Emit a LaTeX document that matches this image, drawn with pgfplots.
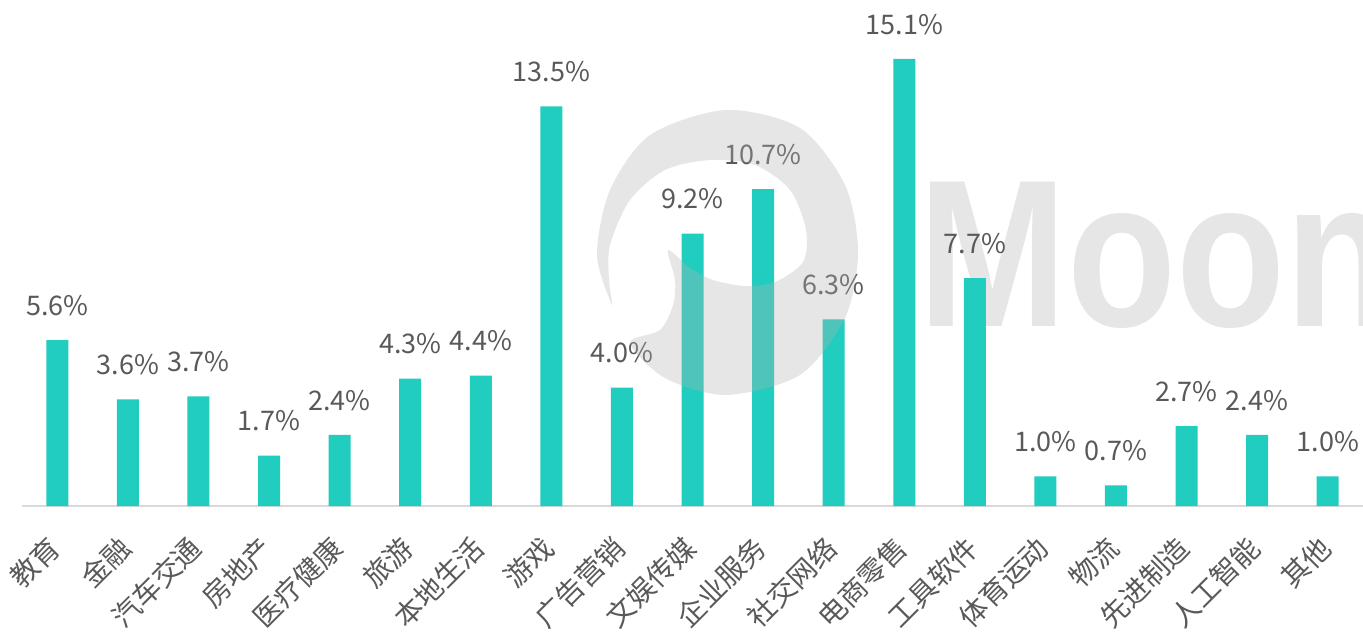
\documentclass[border=0pt]{standalone}
\usepackage{pgfplots}
\pgfplotsset{compat=1.18}
\usepackage{fontspec}
\setmainfont{Noto Sans CJK SC}
\newfontfamily\wmfont{Liberation Sans}
\definecolor{barc}{RGB}{32,205,190}
\definecolor{txt}{RGB}{89,89,89}
\definecolor{axl}{RGB}{217,217,217}
\definecolor{wm}{RGB}{178,178,178}
\definecolor{wmt}{RGB}{230,230,230}
\begin{document}
\begin{tikzpicture}
\useasboundingbox (-11pt,-62.5pt) rectangle (670.5pt,253pt);
% watermark text (behind bars)
\begin{scope}[x=0.5pt,y=-0.5pt,shift={(-11pt,253pt)}]
\node[anchor=base west, inner sep=0pt, text=wmt, font=\wmfont\bfseries\fontsize{105}{105}\selectfont, xscale=0.85] at (918,327) {Moon};
\end{scope}
\begin{axis}[
  at={(0,0)}, anchor=south west,
  width=670.5pt, height=253pt, scale only axis,
  xmin=-0.5, xmax=18.5, ymin=0, ymax=17.09,
  axis x line=bottom, axis y line=none,
  axis line style={draw=axl, line width=1pt, -},
  xtick={0,...,18},
  xticklabels={教育,金融,汽车交通,房地产,医疗健康,旅游,本地生活,游戏,广告营销,文娱传媒,企业服务,社交网络,电商零售,工具软件,体育运动,物流,先进制造,人工智能,其他},
  xticklabel style={rotate=45, anchor=east, inner sep=0pt, xshift=-13.6pt, yshift=-12.2pt, font=\fontsize{14}{14}\selectfont, text=txt},
  major tick length=0pt,
  ytick=\empty,
  point meta=explicit symbolic,
  nodes near coords,
  nodes near coords style={anchor=south, inner sep=0pt, yshift=12pt, text=txt, font=\fontsize{13.5}{13.5}\selectfont},
  clip=false,
]
\addplot[ybar, bar width=11pt, fill=barc, draw=none] coordinates {
(0,5.6) [5.6\%]
(1,3.6) [3.6\%]
(2,3.7) [3.7\%]
(3,1.7) [1.7\%]
(4,2.4) [2.4\%]
(5,4.3) [4.3\%]
(6,4.4) [4.4\%]
(7,13.5) [13.5\%]
(8,4.0) [4.0\%]
(9,9.2) [9.2\%]
(10,10.7) [10.7\%]
(11,6.3) [6.3\%]
(12,15.1) [15.1\%]
(13,7.7) [7.7\%]
(14,1.0) [1.0\%]
(15,0.7) [0.7\%]
(16,2.7) [2.7\%]
(17,2.4) [2.4\%]
(18,1.0) [1.0\%]
};
\end{axis}
% watermark crescent (over bars, translucent)
\begin{scope}[x=0.5pt,y=-0.5pt,shift={(-11pt,253pt)}]
\fill[wm, opacity=0.32] plot[smooth cycle, tension=0.5] coordinates {
(612,305) (597,255) (610,190) (650,135) (726,110) (800,128) (845,185) (858,252) (845,318) (800,375) (726,395) (665,378) (630,343)
(660,330) (673,305) (675,280) (668,250)
(690,268) (713,280) (745,286) (775,282) (803,262)
(806,230) (790,190) (755,165) (710,160) (665,170) (630,200) (610,245) (609,280)};
\end{scope}
\end{tikzpicture}
\end{document}
